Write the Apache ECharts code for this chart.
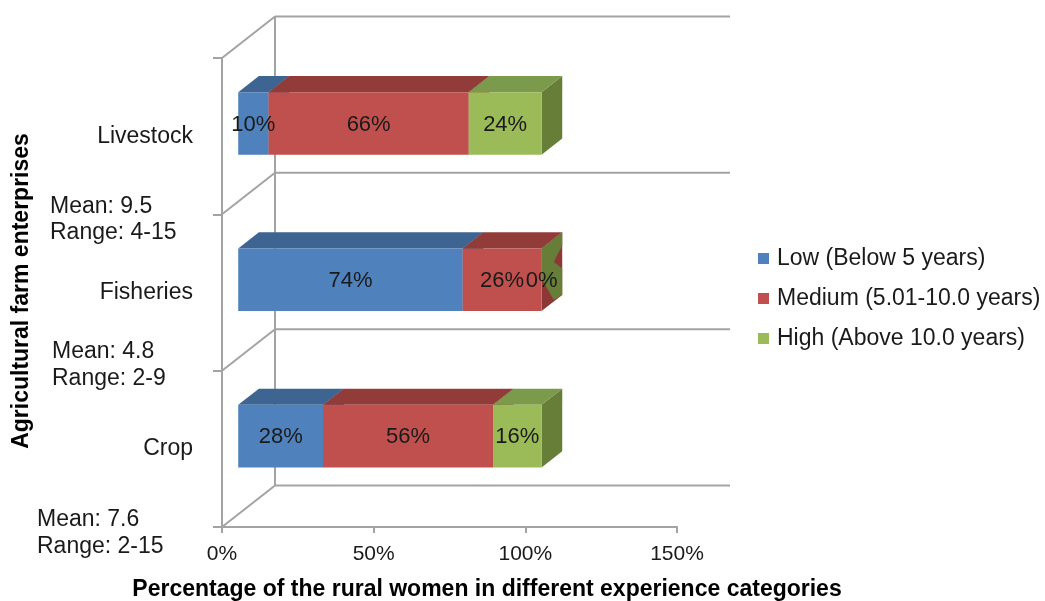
<!DOCTYPE html>
<html>
<head>
<meta charset="utf-8">
<script src="https://cdn.jsdelivr.net/npm/echarts@6/dist/echarts.min.js"></script>
<style>
  html, body { margin: 0; padding: 0; background: #ffffff; }
  #chart { width: 1045px; height: 601px; }
</style>
</head>
<body>
<div id="chart"></div>
<script>
// Share of rural women by years of experience, per farm enterprise (%)
const categories = ['Crop', 'Fisheries', 'Livestock'];
const lowShare = [28, 74, 10];
const mediumShare = [56, 26, 66];
const highShare = [16, 0, 24];
const seriesNames = ['Low (Below 5 years)', 'Medium (5.01-10.0 years)', 'High (Above 10.0 years)'];

// Years of experience per enterprise
const meanYears = ['7.6', '4.8', '9.5'];
const rangeYears = ['2-15', '2-9', '4-15'];

// Value axis ticks
const xMin = 0, xMax = 150, xStep = 50;

// ---- look and layout ----
const FONT = "'Liberation Sans', Arial, sans-serif";
const TEXT = '#1a1a1a';
const LINE = '#a3a3a3';
const DEPTH = [53, -41.5];          // offset from the front plane to the back wall
const BAR_FRONT = 0.306;            // depth fraction where the bar front face sits
const BAR_DEPTH = 0.39;             // depth fraction covered by a bar
const BAR_HEIGHT = 0.4;             // share of a category band
const faceColors = [
  { front: '#4f81bd', top: '#3e6591', side: '#375a82' },
  { front: '#c0504d', top: '#923c3a', side: '#8c3936' },
  { front: '#9bbb59', top: '#7b9a4c', side: '#667e38' }
];
// stats block offset from each category's axis point
const statsOffset = [[-185, 84.5], [-170, 72.5], [-172, 83.5]];

const lineStyle = () => ({ stroke: LINE, lineWidth: 2 });

// Back wall, side wall and their grid lines
function renderFrame(params, api) {
  const n = categories.length;
  const band = api.size([0, 1])[1];
  const x0 = api.coord([xMin, 0])[0];
  const x1 = api.coord([xMax, 0])[0];
  const bounds = [];
  for (let c = 0; c < n; c++) bounds.push(api.coord([xMin, c])[1] + band / 2);
  bounds.push(api.coord([xMin, n - 1])[1] - band / 2);
  const children = [];
  bounds.forEach(function (y) {
    children.push({ type: 'line', shape: { x1: x0 + DEPTH[0], y1: y + DEPTH[1], x2: x1 + DEPTH[0], y2: y + DEPTH[1] }, style: lineStyle() });
    children.push({ type: 'line', shape: { x1: x0, y1: y, x2: x0 + DEPTH[0], y2: y + DEPTH[1] }, style: lineStyle() });
  });
  const yTop = Math.min.apply(null, bounds), yBot = Math.max.apply(null, bounds);
  children.push({ type: 'line', shape: { x1: x0 + DEPTH[0], y1: yTop + DEPTH[1], x2: x0 + DEPTH[0], y2: yBot + DEPTH[1] }, style: lineStyle() });
  return { type: 'group', children: children };
}

// One stacked 3D block segment: side, top, front face and its label
function makeBarRenderer(level) {
  const col = faceColors[level];
  return function (params, api) {
    const s = api.value(0), e = api.value(1), c = api.value(2), v = api.value(3);
    const a = api.coord([s, c]), b = api.coord([e, c]);
    const band = api.size([0, 1])[1];
    const h = band * BAR_HEIGHT;
    const fx = DEPTH[0] * BAR_FRONT, fy = DEPTH[1] * BAR_FRONT;
    const dx = DEPTH[0] * BAR_DEPTH, dy = DEPTH[1] * BAR_DEPTH;
    const xl = a[0] + fx, xr = b[0] + fx;
    const yt = a[1] + fy - h / 2, yb = yt + h;
    const P = function (u, w) { return [xr + u * dx, yt + u * dy + w * h]; };
    const children = [];
    if (xr - xl > 0.5) {
      children.push({ type: 'polygon', shape: { points: [P(0, 0), P(1, 0), P(1, 1), P(0, 1)] }, style: { fill: col.side } });
      children.push({ type: 'polygon', shape: { points: [[xl, yt], [xr, yt], [xr + dx, yt + dy], [xl + dx, yt + dy]] }, style: { fill: col.top } });
      children.push({ type: 'rect', shape: { x: xl, y: yt, width: xr - xl, height: h }, style: { fill: col.front } });
    } else {
      // an empty segment leaves a twisted sliver on the block's end face
      children.push({ type: 'polygon', shape: { points: [P(0, 0), P(1, 0), P(1, 0.21), P(0.59, 0.37), P(1, 0.58), P(1, 1), P(0.59, 0.975), P(0, 0.48)] }, style: { fill: col.side } });
    }
    children.push({
      type: 'text', z2: 100,
      x: (xl + xr) / 2, y: (yt + yb) / 2 + 1,
      style: { text: v + '%', fill: TEXT, fontSize: 22, fontFamily: FONT, align: 'center', verticalAlign: 'middle' }
    });
    return { type: 'group', children: children };
  };
}

function renderStats(params, api) {
  const i = api.value(1);
  const p = api.coord([xMin, i]);
  const off = statsOffset[i];
  return {
    type: 'text',
    x: p[0] + off[0], y: p[1] + off[1],
    style: {
      text: 'Mean: ' + meanYears[i] + '\nRange: ' + rangeYears[i],
      fill: TEXT, fontSize: 23, fontFamily: FONT, lineHeight: 26.7,
      align: 'left', verticalAlign: 'middle'
    }
  };
}

const levels = [lowShare, mediumShare, highShare];
const barSeries = levels.map(function (vals, k) {
  const data = categories.map(function (cat, c) {
    let start = 0;
    for (let j = 0; j < k; j++) start += levels[j][c];
    return [start, start + vals[c], c, vals[c]];
  });
  return {
    name: seriesNames[k], type: 'custom', z: 3, clip: false,
    itemStyle: { color: faceColors[k].front },
    encode: { x: [0, 1], y: 2 },
    renderItem: makeBarRenderer(k),
    data: data
  };
});

const chart = echarts.init(document.getElementById('chart'), null, { renderer: 'canvas' });
chart.setOption({
  backgroundColor: '#ffffff',
  animation: false,
  color: faceColors.map(function (f) { return f.front; }),
  grid: { left: 222, top: 58, width: 455, height: 469, containLabel: false, outerBoundsMode: 'none' },
  xAxis: {
    type: 'value', min: xMin, max: xMax, interval: xStep,
    axisLine: { show: true, lineStyle: { color: LINE, width: 2 } },
    axisTick: { show: true, length: 6, lineStyle: { color: LINE, width: 2 } },
    splitLine: { show: false },
    axisLabel: { formatter: '{value}%', fontSize: 21, fontFamily: FONT, color: TEXT, margin: 17 }
  },
  yAxis: {
    type: 'category', data: categories,
    axisLine: { show: true, lineStyle: { color: LINE, width: 2 } },
    axisTick: { show: true, length: 9, lineStyle: { color: LINE, width: 2 } },
    splitLine: { show: false },
    axisLabel: { fontSize: 23, fontFamily: FONT, color: TEXT, margin: 29, padding: [4, 0, 0, 0] }
  },
  legend: {
    data: seriesNames, orient: 'vertical', left: 753, top: 242,
    icon: 'rect', itemWidth: 11, itemHeight: 11, itemGap: 17,
    textStyle: { fontSize: 23, fontFamily: FONT, color: TEXT, lineHeight: 23, padding: [0, 0, 0, 3] }
  },
  graphic: [
    {
      type: 'text', x: 487, y: 590,
      style: { text: 'Percentage of the rural women in different experience categories', fill: '#000', fontSize: 23, fontWeight: 'bold', fontFamily: FONT, align: 'center', verticalAlign: 'middle' }
    },
    {
      type: 'text', x: 22, y: 291, rotation: Math.PI / 2,
      style: { text: 'Agricultural farm enterprises', fill: '#000', fontSize: 23, fontWeight: 'bold', fontFamily: FONT, align: 'center', verticalAlign: 'middle' }
    }
  ],
  series: [
    { name: 'frame', type: 'custom', z: 1, clip: false, silent: true, encode: { x: 0, y: 1 }, renderItem: renderFrame, data: [[xMin, 0]] }
  ].concat(barSeries).concat([
    { name: 'stats', type: 'custom', z: 3, clip: false, silent: true, encode: { x: 0, y: 1 }, renderItem: renderStats, data: categories.map(function (c, i) { return [xMin, i]; }) }
  ])
});
</script>
</body>
</html>
